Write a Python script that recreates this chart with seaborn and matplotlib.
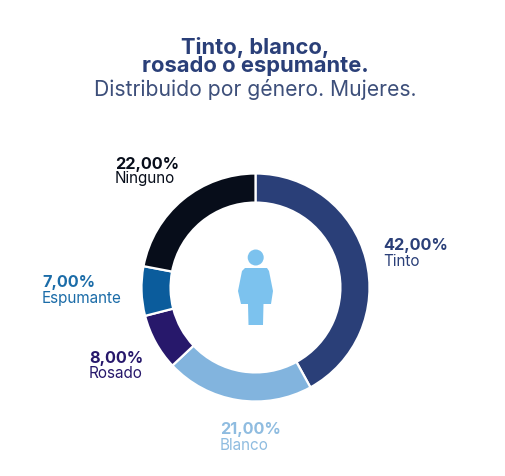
import matplotlib
matplotlib.use("Agg")
import matplotlib.pyplot as plt
from matplotlib.patches import Circle, Polygon
import seaborn as sns

W, H = 506, 477

categories = ["Tinto", "Blanco", "Rosado", "Espumante", "Ninguno"]
values = [42.0, 21.0, 8.0, 7.0, 22.0]
colors = ["#2a3f78", "#82b4de", "#27186b", "#0b5c9c", "#070d1a"]
label_colors = ["#2a3f78", "#8fbce0", "#27186b", "#1b6ca8", "#070d1a"]
label_pos = [(383, 246), (220, 430), (89, 359), (42, 283), (115, 164)]

sns.set_theme(style="white")
plt.rcParams["font.family"] = ["Inter", "DejaVu Sans"]

fig = plt.figure(figsize=(W / 100, H / 100), dpi=100, facecolor="white")


def px(x, y):
    return x / W, 1 - y / H


# ring centred on (255, 288), outer radius 114 px
cx, cy, r = 255.5, 288.5, 114
ax = fig.add_axes([(cx - r) / W, 1 - (cy + r) / H, 2 * r / W, 2 * r / H])
ax.pie(values, colors=colors, startangle=90, counterclock=False, radius=1,
       wedgeprops={"width": 0.255, "edgecolor": "white", "linewidth": 1.6})
ax.set_xlim(-1, 1)
ax.set_ylim(-1, 1)
ax.set_aspect("equal")

# overlay in pixel coords for the icon
ov = fig.add_axes([0, 0, 1, 1], facecolor="none")
ov.set_xlim(0, W)
ov.set_ylim(H, 0)
ov.axis("off")
icon = "#7cc2ee"
ov.add_patch(Circle((255.7, 258.5), 8, color=icon, lw=0))
ov.add_patch(Polygon([(245, 269), (267, 269), (269, 272), (273, 292), (271, 305),
                     (263.5, 305), (263, 326), (248.5, 326), (248, 305), (241, 305),
                     (238, 292), (242, 272)], closed=True, color=icon, lw=0))

# title
fig.text(*px(255.5, 47), "Tinto, blanco,", ha="center", va="center", fontsize=15.8,
         fontweight="bold", color="#2a3f78")
fig.text(*px(255.5, 66), "rosado o espumante.", ha="center", va="center", fontsize=15.8,
         fontweight="bold", color="#2a3f78")
fig.text(*px(255, 89), "Distribuido por género. Mujeres.", ha="center", va="center",
         fontsize=15.2, color="#3d4f7a")

# labels
for cat, val, col, (x, y) in zip(categories, values, label_colors, label_pos):
    txt = f"{val:.2f}%".replace(".", ",")
    fig.text(*px(x, y), txt, ha="left", va="center", fontsize=11.7,
             fontweight="bold", color=col)
    fig.text(*px(x, y + 15), cat, ha="left", va="center", fontsize=11, color=col)

fig.savefig("out.png", dpi=100, facecolor="white")
